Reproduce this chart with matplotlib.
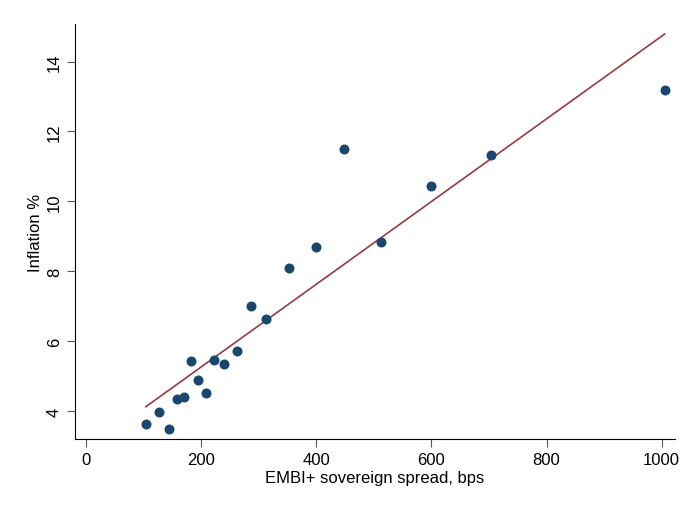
import matplotlib
matplotlib.use("Agg")
import matplotlib.pyplot as plt
import numpy as np

# spread (bps) vs inflation (%)
spread = [104, 127, 145, 159, 171, 183, 195, 208, 223, 239,
          262, 286, 313, 352, 399, 449, 512, 599, 703, 1005]
inflation = [3.63, 3.98, 3.50, 4.34, 4.42, 5.45, 4.88, 4.52, 5.47, 5.35,
             5.72, 7.01, 6.64, 8.11, 8.69, 11.50, 8.84, 10.44, 11.32, 13.20]

# fitted line
fit_slope = 0.011828
fit_intercept = 2.899

x_ticks = [0, 200, 400, 600, 800, 1000]
y_ticks = [4, 6, 8, 10, 12, 14]

plt.rcParams['font.family'] = ['Liberation Sans', 'DejaVu Sans']

fig = plt.figure(figsize=(6.88, 5.06), dpi=100)
ax = fig.add_axes([0.109, 0.130, 0.872, 0.821])

ax.scatter(spread, inflation, s=52, color='#1a476f', zorder=3, linewidths=0)
xs = np.array([min(spread), max(spread)])
ax.plot(xs, fit_intercept + fit_slope * xs, color='#973a40', lw=1.2, zorder=2)

ax.set_xlim(-19, 1023)
ax.set_ylim(3.2, 15.08)
ax.set_xticks(x_ticks)
ax.set_yticks(y_ticks)
ax.tick_params(axis='both', labelsize=12, length=6, color='#555555', direction='out')
for lab in ax.get_yticklabels():
    lab.set_rotation(90)
    lab.set_va('center')

ax.spines['top'].set_visible(False)
ax.spines['right'].set_visible(False)
ax.spines['left'].set_color('black')
ax.spines['bottom'].set_color('black')

ax.set_xlabel("EMBI+ sovereign spread, bps", fontsize=12, labelpad=2)
ax.set_ylabel("Inflation %", fontsize=12, labelpad=3)

fig.savefig("out.png", dpi=100)
